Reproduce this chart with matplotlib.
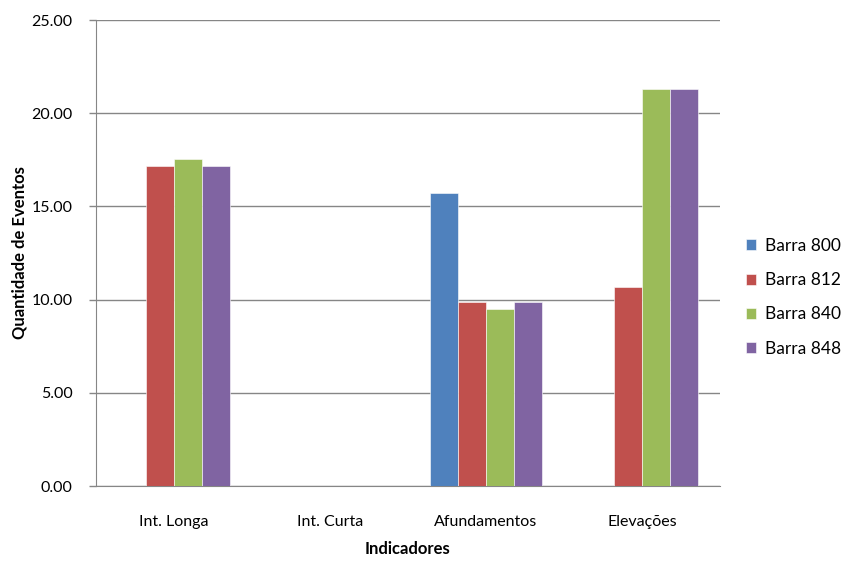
import numpy as np
import matplotlib.pyplot as plt

plt.rcParams["font.family"] = ["Lato", "DejaVu Sans"]

# Data
categories = ["Int. Longa", "Int. Curta", "Afundamentos", "Elevações"]
series_names = ["Barra 800", "Barra 812", "Barra 840", "Barra 848"]
barra_800 = [0.0, 0.0, 15.71, 0.0]
barra_812 = [17.18, 0.0, 9.87, 10.68]
barra_840 = [17.56, 0.0, 9.48, 21.29]
barra_848 = [17.18, 0.0, 9.87, 21.29]
colors = ["#4F81BD", "#C0504D", "#9BBB59", "#8064A2"]

values = [barra_800, barra_812, barra_840, barra_848]
x = np.arange(len(categories))
width = 0.18

fig = plt.figure(figsize=(8.48, 5.62), dpi=100)
ax = fig.add_axes([0.1132, 0.1352, 0.7358, 0.8292])

for i, (name, vals, c) in enumerate(zip(series_names, values, colors)):
    ax.bar(x + (i - 1.5) * width, vals, width, color=c, label=name,
           edgecolor="white", linewidth=0.4, zorder=3)

ax.set_xlim(-0.5, len(categories) - 0.5)
ax.set_ylim(0, 25)
ax.set_yticks(np.arange(0, 25.01, 5))
ax.set_yticklabels([f"{v:.2f}" for v in np.arange(0, 25.01, 5)], fontsize=11.5)
ax.set_xticks(x)
ax.set_xticklabels(categories, fontsize=11.5)
ax.tick_params(axis="x", length=0, pad=21)
ax.tick_params(axis="y", length=5, color="#868686", width=1, pad=12)

ax.grid(axis="y", color="#868686", linewidth=1, zorder=0)
for s in ["top", "right"]:
    ax.spines[s].set_visible(False)
ax.spines["left"].set_color("#868686")
ax.spines["bottom"].set_color("#868686")

ax.set_xlabel("Indicadores", fontsize=12, fontweight="bold")
ax.set_ylabel("Quantidade de Eventos", fontsize=12, fontweight="bold")
ax.xaxis.set_label_coords(0.5, -0.118)
ax.yaxis.set_label_coords(-0.11, 0.5)

ax.legend(loc="center left", bbox_to_anchor=(1.025, 0.405), frameon=False,
          fontsize=12.5, handlelength=0.6, handleheight=0.6, labelspacing=1.05,
          handletextpad=0.5, borderaxespad=0.2)

plt.savefig("out.png", dpi=100)
